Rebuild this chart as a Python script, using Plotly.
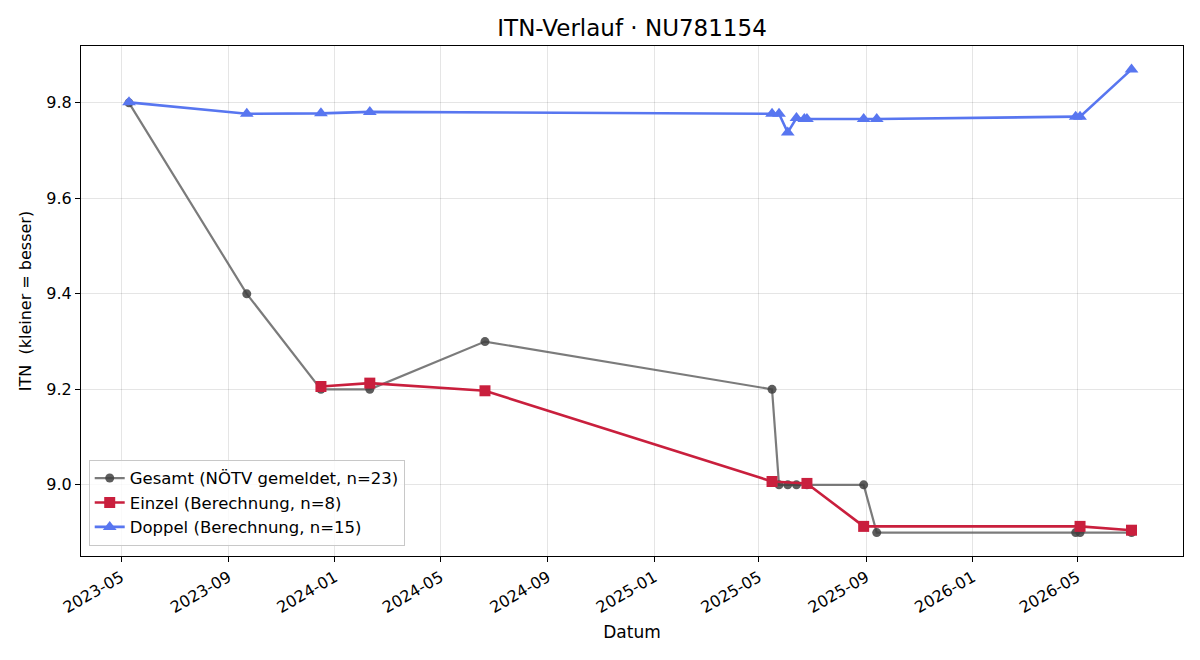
import plotly.graph_objects as go

# Gesamt (NÖTV gemeldet)
gesamt_dates = ["2023-05-10", "2023-09-22", "2023-12-16", "2024-02-10", "2024-06-21",
                "2025-05-16", "2025-05-24", "2025-06-03", "2025-06-13", "2025-06-25",
                "2025-08-29", "2025-09-13", "2026-04-29", "2026-05-04", "2026-07-02"]
gesamt_vals = [9.8, 9.4, 9.2, 9.2, 9.3,
               9.2, 9.0, 9.0, 9.0, 9.0,
               9.0, 8.9, 8.9, 8.9, 8.9]

# Einzel (Berechnung)
einzel_dates = ["2023-12-16", "2024-02-10", "2024-06-21", "2025-05-16",
                "2025-06-25", "2025-08-29", "2026-05-04", "2026-07-02"]
einzel_vals = [9.206, 9.213, 9.197, 9.007, 9.003, 8.913, 8.913, 8.905]

# Doppel (Berechnung)
doppel_dates = ["2023-05-10", "2023-09-22", "2023-12-16", "2024-02-10",
                "2025-05-16", "2025-05-24", "2025-06-03", "2025-06-13",
                "2025-06-22", "2025-06-25", "2025-08-29", "2025-09-13",
                "2026-04-29", "2026-05-04", "2026-07-02"]
doppel_vals = [9.801, 9.777, 9.778, 9.781,
               9.777, 9.777, 9.738, 9.768,
               9.766, 9.766, 9.766, 9.766,
               9.771, 9.771, 9.870]

tick_vals = ["2023-05-01", "2023-09-01", "2024-01-01", "2024-05-01", "2024-09-01",
             "2025-01-01", "2025-05-01", "2025-09-01", "2026-01-01", "2026-05-01"]
tick_text = ["2023-05", "2023-09", "2024-01", "2024-05", "2024-09",
             "2025-01", "2025-05", "2025-09", "2026-01", "2026-05"]
y_ticks = [9.0, 9.2, 9.4, 9.6, 9.8]

fig = go.Figure()
fig.add_trace(go.Scatter(
    x=gesamt_dates, y=gesamt_vals, mode="lines+markers",
    name="Gesamt (NÖTV gemeldet, n=23)",
    line=dict(color="rgba(90,90,90,0.8)", width=2.2),
    marker=dict(symbol="circle", size=9, color="rgba(65,65,65,0.85)"),
))
fig.add_trace(go.Scatter(
    x=einzel_dates, y=einzel_vals, mode="lines+markers",
    name="Einzel (Berechnung, n=8)",
    line=dict(color="#C91F3D", width=2.6),
    marker=dict(symbol="square", size=11, color="#C91F3D"),
))
fig.add_trace(go.Scatter(
    x=doppel_dates, y=doppel_vals, mode="lines+markers",
    name="Doppel (Berechnung, n=15)",
    line=dict(color="#5876F0", width=2.6),
    marker=dict(symbol="triangle-up", size=12, color="#5876F0"),
))

axis_common = dict(
    showline=True, linecolor="black", linewidth=1, mirror=True,
    ticks="outside", ticklen=5, tickcolor="black",
    showgrid=True, gridcolor="rgba(0,0,0,0.1)", gridwidth=1,
    zeroline=False, tickfont=dict(size=16, color="black"),
)

fig.update_layout(
    width=1200, height=660,
    margin=dict(l=81, r=17, t=46, b=104),
    paper_bgcolor="white", plot_bgcolor="white",
    font=dict(family="DejaVu Sans", color="black"),
    title=dict(text="ITN-Verlauf · NU781154", x=0.5267, xanchor="center",
               y=1 - 28 / 660, yanchor="middle", yref="container",
               font=dict(size=23, color="black")),
    xaxis=dict(
        range=["2023-03-16", "2026-08-30"], type="date",
        tickvals=tick_vals, ticktext=tick_text, tickangle=-30,
        title=dict(text="Datum", font=dict(size=17), standoff=10),
        **axis_common,
    ),
    yaxis=dict(
        range=[8.851, 9.919], tickvals=y_ticks, tickformat=".1f",
        title=dict(text="ITN\u00a0 (kleiner = besser)", font=dict(size=16), standoff=10),
        **axis_common,
    ),
    legend=dict(
        x=0.007, y=0.02, xanchor="left", yanchor="bottom",
        bgcolor="rgba(255,255,255,0.8)", bordercolor="rgba(200,200,200,1)",
        borderwidth=1, font=dict(size=16.5),
    ),
    showlegend=True,
)

fig.write_html("out.html")
